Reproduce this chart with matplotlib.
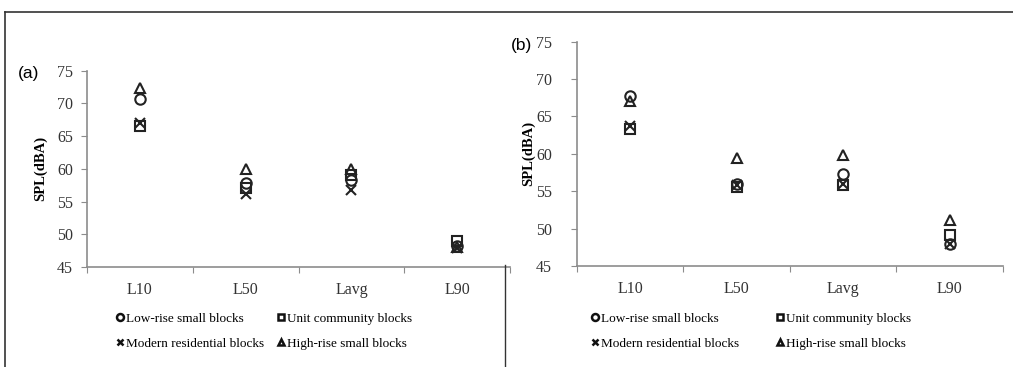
import matplotlib.pyplot as plt
from matplotlib.lines import Line2D

categories = ['L10', 'L50', 'Lavg', 'L90']
labels = ['Low-rise small blocks', 'Unit community blocks',
          'Modern residential blocks', 'High-rise small blocks']

# panel (a)
a_low = [70.6, 57.8, 58.3, 48.2]
a_unit = [66.6, 57.0, 59.0, 49.0]
a_modern = [67.0, 56.1, 56.7, 47.9]
a_high = [72.3, 60.0, 60.0, 48.0]

# panel (b)
b_low = [67.7, 56.0, 57.3, 48.0]
b_unit = [63.3, 55.6, 55.8, 49.2]
b_modern = [63.7, 55.8, 56.0, 48.0]
b_high = [67.0, 59.5, 59.8, 51.2]

serif = ['Liberation Serif', 'DejaVu Serif']
plt.rcParams['font.family'] = serif

fig = plt.figure(figsize=(10.13, 3.67), dpi=100)
ax1 = fig.add_axes([0.0859, 0.2725, 0.4176, 0.535])
ax2 = fig.add_axes([0.5696, 0.2752, 0.4205, 0.6114])

markers = ['o', 's', 'x', '^']
gray = '#8c8c8c'


def draw(ax, series, ylim, yticks, ypad, labelx):
    x = range(1, len(categories) + 1)
    for vals, m in zip(series, markers):
        if m == 'x':
            ax.plot(x, vals, linestyle='none', marker=m, markersize=7.5,
                    color='#222222', markeredgewidth=1.5)
        else:
            ax.plot(x, vals, linestyle='none', marker=m, markersize=7.5,
                    markerfacecolor='none', markeredgecolor='#222222',
                    markeredgewidth=1.5)
    ax.set_xlim(0.5, 4.5)
    ax.set_ylim(*ylim)
    ax.set_yticks(yticks)
    ax.set_xticks([0.5, 1.5, 2.5, 3.5, 4.5])
    ax.set_xticklabels([])
    ax.set_xticks([1, 2, 3, 4], minor=True)
    ax.set_xticklabels(categories, minor=True, fontsize=11.5, color='#333333')
    ax.tick_params(axis='x', which='minor', length=0, pad=11)
    ax.tick_params(axis='x', which='major', length=4, color=gray)
    ax.tick_params(axis='y', length=4, color=gray, labelsize=11.5,
                   labelcolor='#333333', pad=ypad)
    for s in ['top', 'right']:
        ax.spines[s].set_visible(False)
    for s in ['left', 'bottom']:
        ax.spines[s].set_color(gray)
        ax.spines[s].set_linewidth(1.2)
    ax.set_ylabel('SPL(dBA)', fontsize=10.5, fontweight='bold')
    ax.yaxis.set_label_coords(labelx, 0.5)


draw(ax1, [a_low, a_unit, a_modern, a_high], (45, 75), range(45, 76, 5), 6, -0.095)
draw(ax2, [b_low, b_unit, b_modern, b_high], (45, 75), range(45, 76, 5), 14, -0.099)

# legends, 2x2, row-major order
handles = []
for m in markers:
    if m == 'x':
        h = Line2D([], [], linestyle='none', marker=m, markersize=5,
                   color='#111111', markeredgewidth=1.8)
    else:
        h = Line2D([], [], linestyle='none', marker=m, markersize=5,
                   markerfacecolor='none', markeredgecolor='#111111',
                   markeredgewidth=1.8)
    handles.append(h)
order = [0, 2, 1, 3]
for xl, cs in [(0.109, 1.0), (0.578, 2.8)]:
    fig.legend([handles[i] for i in order], [labels[i] for i in order],
               loc='upper left', bbox_to_anchor=(xl, 0.166), ncol=2,
               frameon=False, fontsize=9.5, handlelength=0.5,
               handletextpad=0.2, columnspacing=cs, labelspacing=0.95,
               borderpad=0)

fig.text(0.018, 0.80, '(a)', fontsize=12.5, family=['Liberation Sans', 'DejaVu Sans'],
         va='center')
fig.text(0.504, 0.877, '(b)', fontsize=12.5, family=['Liberation Sans', 'DejaVu Sans'],
         va='center')

# frame lines around the panels
fig.add_artist(Line2D([0.005, 1.0], [0.967, 0.967], color='#333333', lw=1.2,
                      transform=fig.transFigure))
fig.add_artist(Line2D([0.005, 0.005], [0.967, 0.0], color='#333333', lw=1.2,
                      transform=fig.transFigure))
fig.add_artist(Line2D([0.4985, 0.4985], [0.278, 0.0], color='#333333', lw=1.0,
                      transform=fig.transFigure))

fig.savefig('out.png', dpi=100)
